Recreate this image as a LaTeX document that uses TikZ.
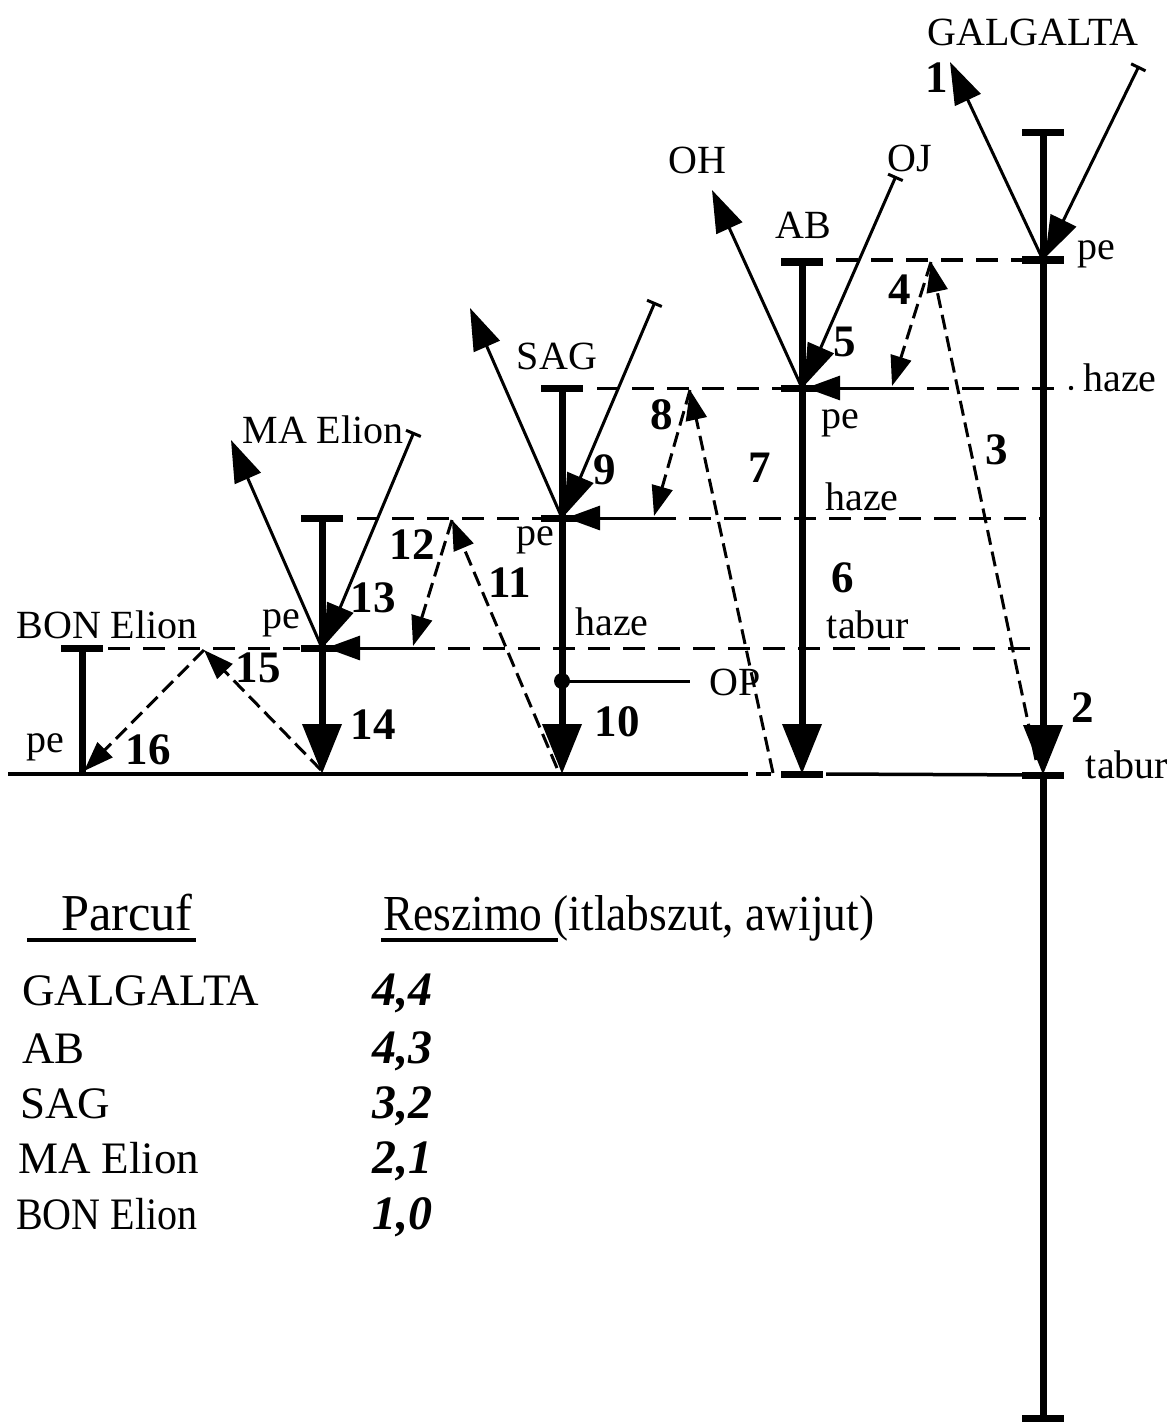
\documentclass[tikz,border=0pt]{standalone}
\usepackage{fontspec}
\setmainfont{Liberation Serif}
\usetikzlibrary{arrows.meta}
\begin{document}
\begin{tikzpicture}[x=1pt,y=-1pt,
  col/.style={line width=7pt},
  barst/.style={line width=7pt},
  bigarr/.style={line width=7pt,-{Triangle[length=50pt,width=38pt]}},
  thinarr/.style={line width=3pt,-{Triangle[length=42pt,width=28pt]}},
  tickarr/.style={line width=3pt,{Bar[width=16pt]}-{Triangle[length=42pt,width=28pt]}},
  dasharr/.style={line width=3pt,dash pattern=on 15pt off 7pt,-{Triangle[length=30pt,width=21pt]}},
  hdash/.style={line width=3pt,dash pattern=on 22pt off 13pt},
  larr/.style={line width=3pt,-{Triangle[length=34pt,width=24pt]}},
  base/.style={line width=3.5pt},
  lbl/.style={font=\fontsize{40}{42}\selectfont,inner sep=0pt},
  num/.style={font=\fontsize{45}{47}\selectfont\bfseries,inner sep=0pt},
  tbl/.style={font=\fontsize{45}{47}\selectfont,inner sep=0pt,anchor=base west},
  val/.style={font=\fontsize{48}{50}\selectfont\bfseries\itshape,inner sep=0pt,anchor=base west},
]
\useasboundingbox (0,0) rectangle (1171,1423);

% column coordinates
\coordinate (gTop) at (1043,133);
\coordinate (gPe) at (1043,260);
\coordinate (gTab) at (1043,775);
\coordinate (gBot) at (1043,1418);
\coordinate (aTop) at (802,262);
\coordinate (aPe) at (802,388);
\coordinate (aTab) at (802,774);
\coordinate (sTop) at (562,388);
\coordinate (sPe) at (562,518);
\coordinate (sTab) at (562,774);
\coordinate (sOP) at (562,681);
\coordinate (opEnd) at (690,681);
\coordinate (mTop) at (322,518);
\coordinate (mPe) at (322,648);
\coordinate (mTab) at (322,774);
\coordinate (bTop) at (82,648);
\coordinate (bTab) at (82,774);

% baseline
\coordinate (bl0) at (8,774);
\coordinate (bl1) at (748,774);
\coordinate (bl2) at (756,774);
\coordinate (bl3) at (771,774);
\coordinate (bl4) at (826,774);
\draw[base] (bl0) -- (bl1);
\draw[base] (bl2) -- (bl3);
\draw[base] (bl4) -- (gTab);

% horizontal dashed levels
\coordinate (h1a) at (836,260);
\coordinate (h1b) at (1022,260);
\draw[hdash] (h1a) -- (h1b);

\coordinate (h2a) at (597,388);
\coordinate (h2b) at (781,388);
\coordinate (p4e) at (892,388);
\coordinate (h2c) at (1062,388);
\draw[hdash] (h2a) -- (h2b);
\draw[hdash] (p4e) -- (h2c);
\fill (1071,388) circle (2.2pt);
\draw[larr] (p4e) -- ([xshift=4pt]aPe);

\coordinate (h3a) at (357,518);
\coordinate (h3b) at (541,518);
\coordinate (p8e) at (654,518);
\coordinate (h3c) at (1040,518);
\draw[hdash] (h3a) -- (h3b);
\draw[hdash] (p8e) -- (h3c);
\draw[larr] (p8e) -- ([xshift=4pt]sPe);

\coordinate (h4a) at (108,648);
\coordinate (h4b) at (300,648);
\coordinate (p12e) at (413,648);
\coordinate (h4c) at (1040,648);
\draw[hdash] (h4a) -- (h4b);
\draw[hdash] (p12e) -- (h4c);
\draw[larr] (p12e) -- ([xshift=4pt]mPe);

% columns
\draw[bigarr] (gTop) -- (gTab);
\draw[col] (gTab) -- (gBot);
\draw[bigarr] (aTop) -- (aTab);
\draw[bigarr] (sTop) -- (sTab);
\draw[bigarr] (mTop) -- (mTab);
\draw[col] (bTop) -- (bTab);

% bars
\foreach \c in {gTop,gPe,gTab,gBot,aTop,aPe,aTab,sTop,sPe,mTop,mPe,bTop}
  \draw[barst] ([xshift=-21pt]\c) -- ([xshift=21pt]\c);

% OP
\fill (sOP) circle (8pt);
\draw[line width=3pt] (sOP) -- (opEnd);

% thin arrows
\coordinate (g1) at (950,62);
\coordinate (gR) at (1139,66);
\draw[thinarr] (gPe) -- (g1);
\draw[tickarr] (gR) -- ([xshift=2pt,yshift=2pt]gPe);
\coordinate (aL) at (712,190);
\coordinate (aR) at (896,176);
\draw[thinarr] (aPe) -- (aL);
\draw[tickarr] (aR) -- ([xshift=2pt,yshift=2pt]aPe);
\coordinate (sL) at (470,308);
\coordinate (sR) at (655,302);
\draw[thinarr] (sPe) -- (sL);
\draw[tickarr] (sR) -- ([xshift=2pt,yshift=2pt]sPe);
\coordinate (mL) at (231,440);
\coordinate (mR) at (414,432);
\draw[thinarr] (mPe) -- (mL);
\draw[tickarr] (mR) -- ([xshift=2pt,yshift=2pt]mPe);

% dashed diagonal arrows
\coordinate (p34) at (931,262);
\coordinate (p3s) at (1036,760);
\coordinate (p4t) at (892,386);
\draw[dasharr] (p3s) -- (p34);
\draw[dasharr] (p34) -- (p4t);
\coordinate (p78) at (690,390);
\coordinate (p7s) at (773,773);
\coordinate (p8t) at (654,516);
\draw[dasharr] (p7s) -- (p78);
\draw[dasharr] (p78) -- (p8t);
\coordinate (p1112) at (452,520);
\coordinate (p11s) at (557,768);
\coordinate (p12t) at (413,646);
\draw[dasharr] (p11s) -- (p1112);
\draw[dasharr] (p1112) -- (p12t);
\coordinate (p1516) at (204,650);
\coordinate (p15s) at (321,770);
\coordinate (p16t) at (84,771);
\draw[dasharr] (p15s) -- (p1516);
\draw[dasharr] (p1516) -- (p16t);

% labels
\node[lbl] (tG) at (1033,32) {GALGALTA};
\node[lbl] (tOH) at (697,160) {OH};
\node[lbl] (tOJ) at (910,158) {OJ};
\node[lbl] (tAB) at (803,225) {AB};
\node[lbl] (tSAG) at (557,356) {SAG};
\node[lbl] (tMA) at (323,430) {MA Elion};
\node[lbl] (tBON) at (107,625) {BON Elion};
\node[lbl] (pe1) at (1096,254) {pe};
\node[lbl] (pe2) at (840,423) {pe};
\node[lbl] (pe3) at (535,540) {pe};
\node[lbl] (pe4) at (281,623) {pe};
\node[lbl] (pe5) at (45,747) {pe};
\node[lbl] (hz1) at (1120,378) {haze};
\node[lbl] (hz2) at (862,497) {haze};
\node[lbl] (hz3) at (612,622) {haze};
\node[lbl] (tb1) at (868,625) {tabur};
\node[lbl] (tb2) at (1127,765) {tabur};
\node[lbl] (tOP) at (735,682) {OP};

\node[num] (n1) at (937,78) {1};
\node[num] (n2) at (1083,708) {2};
\node[num] (n3) at (997,450) {3};
\node[num] (n4) at (900,290) {4};
\node[num] (n5) at (845,342) {5};
\node[num] (n6) at (843,578) {6};
\node[num] (n7) at (760,468) {7};
\node[num] (n8) at (662,415) {8};
\node[num] (n9) at (605,470) {9};
\node[num] (n10) at (617,722) {10};
\node[num] (n11) at (510,583) {11};
\node[num] (n12) at (412,545) {12};
\node[num] (n13) at (373,598) {13};
\node[num] (n14) at (373,725) {14};
\node[num] (n15) at (258,668) {15};
\node[num] (n16) at (148,750) {16};

% table
\node[tbl] (hP) at (61,930) {\scalebox{1.12}[1.15]{Parcuf}};
\node[tbl] (hR) at (383,930) {\scalebox{1.01}[1.12]{Reszimo (itlabszut, awijut)}};
\coordinate (u1a) at (27,940);
\coordinate (u1b) at (196,940);
\coordinate (u2a) at (381,940);
\coordinate (u2b) at (558,940);
\draw[line width=4pt] (u1a) -- (u1b);
\draw[line width=4pt] (u2a) -- (u2b);
\node[tbl] (r1) at (22,1005) {GALGALTA};
\node[tbl] (r2) at (22,1063) {AB};
\node[tbl] (r3) at (20,1118) {SAG};
\node[tbl] (r4) at (18,1173) {MA Elion};
\node[tbl] (r5) at (16,1229) {\scalebox{0.89}[1]{BON Elion}};
\node[val] (v1) at (372,1005) {4,4};
\node[val] (v2) at (372,1063) {4,3};
\node[val] (v3) at (372,1118) {3,2};
\node[val] (v4) at (372,1173) {2,1};
\node[val] (v5) at (372,1229) {1,0};
\end{tikzpicture}
\end{document}
